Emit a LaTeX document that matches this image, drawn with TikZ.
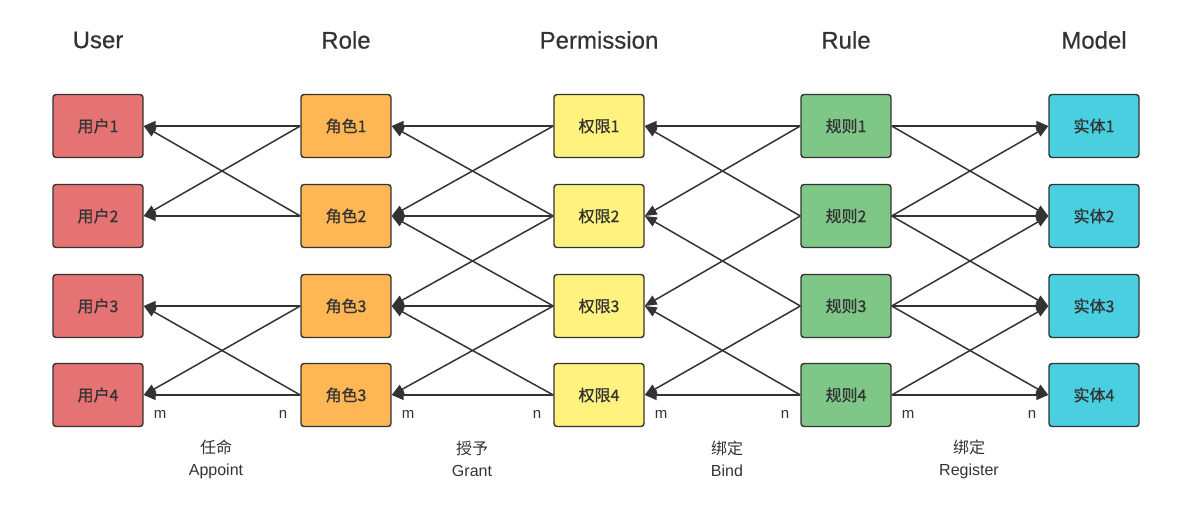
\documentclass[tikz,border=0pt]{standalone}
\usepackage{fontspec}
\setmainfont{Liberation Sans}
\newfontfamily\heading[FakeBold=0.5]{Liberation Sans}
\newfontfamily\cjk{Noto Sans CJK SC}
\newfontfamily\cjkbox[FakeBold=0.8]{Noto Sans CJK SC}
\usetikzlibrary{arrows.meta}

\definecolor{ink}{HTML}{333333}
\definecolor{userfill}{HTML}{E57373}
\definecolor{rolefill}{HTML}{FFB654}
\definecolor{permfill}{HTML}{FFF27E}
\definecolor{rulefill}{HTML}{7EC787}
\definecolor{modelfill}{HTML}{4ACFE0}

\tikzset{
  box/.style={draw=ink, line width=1.4pt, rounded corners=3pt, minimum width=90pt,
    minimum height=63pt, inner sep=0pt, text=ink, font=\cjkbox\fontsize{16}{16}\selectfont},
  link/.style={draw=ink, line width=1.5pt, -{Triangle[length=12pt,width=10pt]}},
  title/.style={text=ink, font=\heading\fontsize{24}{24}\selectfont},
  card/.style={text=ink, font=\fontsize{15}{15}\selectfont},
  verb/.style={text=ink, align=center, font=\fontsize{16}{22}\selectfont}
}

\begin{document}
\begin{tikzpicture}[x=1pt, y=-1pt]
			\useasboundingbox (0,0) rectangle (1187,529);

			\node[title] (tu) at (98,  40)   {User};
			\node[title] (tr) at (346, 40)   {Role};
			\node[title] (tp) at (599, 40)   {Permission};
			\node[title] (tb) at (846, 40)   {Rule};
			\node[title] (tm) at (1094, 40)  {Model};

			\node[box, fill=userfill] (u1) at (98, 126)  {用户1};
			\node[box, fill=userfill] (u2) at (98, 216)  {用户2};
			\node[box, fill=userfill] (u3) at (98, 306)  {用户3};
			\node[box, fill=userfill] (u4) at (98, 395)  {用户4};

			\node[box, fill=rolefill] (r1) at (346, 126) {角色1};
			\node[box, fill=rolefill] (r2) at (346, 216) {角色2};
			\node[box, fill=rolefill] (r3) at (346, 306) {角色3};
			\node[box, fill=rolefill] (r4) at (346, 395) {角色3};

			\node[box, fill=permfill] (p1) at (599, 126) {权限1};
			\node[box, fill=permfill] (p2) at (599, 216) {权限2};
			\node[box, fill=permfill] (p3) at (599, 306) {权限3};
			\node[box, fill=permfill] (p4) at (599, 395) {权限4};

			\node[box, fill=rulefill] (b1) at (846, 126) {规则1};
			\node[box, fill=rulefill] (b2) at (846, 216) {规则2};
			\node[box, fill=rulefill] (b3) at (846, 306) {规则3};
			\node[box, fill=rulefill] (b4) at (846, 395) {规则4};

			\node[box, fill=modelfill] (m1) at (1094, 126) {实体1};
			\node[box, fill=modelfill] (m2) at (1094, 216) {实体2};
			\node[box, fill=modelfill] (m3) at (1094, 306) {实体3};
			\node[box, fill=modelfill] (m4) at (1094, 395) {实体4};

			\def\leftward {r1/u1, r1/u2, r2/u1, r2/u2, r3/u3, r3/u4, r4/u3, r4/u4,
				p1/r1, p1/r2, p2/r1, p2/r2, p2/r3, p3/r2, p3/r3, p3/r4, p4/r3, p4/r4,
				b1/p1, b1/p2, b2/p1, b2/p3, b3/p2, b3/p4, b4/p3, b4/p4}  % list elements
			\foreach \u/\v in \leftward
			{	\draw[link] (\u.west) -- (\v.east);
			}
			\def\rightward {b1/m1, b1/m2, b2/m1, b2/m2, b2/m3, b3/m2, b3/m3, b3/m4, b4/m3, b4/m4}  % list elements
			\foreach \u/\v in \rightward
			{	\draw[link] (\u.east) -- (\v.west);
			}

			\node[card] (m-a) at (160, 414) {m};
			\node[card] (n-a) at (283, 414) {n};
			\node[card] (m-b) at (408, 414) {m};
			\node[card] (n-b) at (537, 414) {n};
			\node[card] (m-c) at (661, 414) {m};
			\node[card] (n-c) at (785, 414) {n};
			\node[card] (m-d) at (908, 414) {m};
			\node[card] (n-d) at (1032, 414) {n};

			\node[verb] (va) at (216, 459) {{\cjk 任命}\\Appoint};
			\node[verb] (vb) at (472, 459) {{\cjk 授予}\\Grant};
			\node[verb] (vc) at (727, 459) {{\cjk 绑定}\\Bind};
			\node[verb] (vd) at (969, 459) {{\cjk 绑定}\\Register};
		\end{tikzpicture}
\end{document}
